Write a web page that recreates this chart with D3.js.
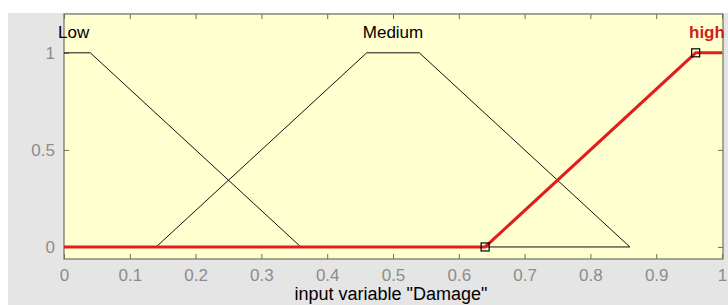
<!DOCTYPE html>
<html>
<head>
<meta charset="utf-8">
<script src="https://cdn.jsdelivr.net/npm/d3@7"></script>
<style>
  body { margin: 0; background: #fff; }
  text { font-family: "Liberation Sans", Arial, sans-serif; }
</style>
</head>
<body>
<div id="chart"></div>
<script>

// membership functions of input variable "Damage"
var mfNames = ["Low", "Medium", "high"]
var lowPts = [[0, 1], [0.04, 1], [0.36, 0]]
var mediumPts = [[0.14, 0], [0.46, 1], [0.54, 1], [0.86, 0], [0.14, 0]]
var highPts = [[0, 0], [0.64, 0], [0.96, 1], [1.0, 1]]
var highCorners = [[0.64, 0], [0.96, 1]]
var labelX = [0.0, 0.5, 0.95]

var xTicks = [0, 0.1, 0.2, 0.3, 0.4, 0.5, 0.6, 0.7, 0.8, 0.9, 1]
var yTicks = [0, 0.5, 1]

var width = 728;
var height = 305;

var svg = d3.select("#chart")
  .append("svg")
    .attr("width", width)
    .attr("height", height)

// grey figure background
svg.append("rect")
    .attr("x", 8).attr("y", 13)
    .attr("width", width - 8).attr("height", height - 13)
    .attr("fill", "#e5e5e5")

var xScale = d3.scaleLinear()
  .domain([0, 1])
  .range([64, 722])

var yScale = d3.scaleLinear()
  .domain([-0.062, 1.2])
  .range([259, 14])

var x0 = 64, x1 = 723, y0 = 14, y1 = 259

svg.append("rect")
    .attr("x", x0).attr("y", y0)
    .attr("width", x1 - x0).attr("height", y1 - y0)
    .attr("fill", "#ffffcf")

var axisColor = "#707060"

// bottom axis
svg.append("g")
    .attr("transform", `translate(0,${y1})`)
    .call(d3.axisBottom(xScale).tickValues(xTicks).tickSize(-5).tickPadding(10)
      .tickFormat(d3.format("~g")))
// top axis ticks only
svg.append("g")
    .attr("transform", `translate(0,${y0})`)
    .call(d3.axisTop(xScale).tickValues(xTicks).tickSize(-5).tickFormat(""))
// left axis
svg.append("g")
    .attr("transform", `translate(${x0},0)`)
    .call(d3.axisLeft(yScale).tickValues(yTicks).tickSize(-5).tickPadding(9)
      .tickFormat(d3.format("~g")))
// right axis ticks only
svg.append("g")
    .attr("transform", `translate(${x1},0)`)
    .call(d3.axisRight(yScale).tickValues(yTicks).tickSize(-5).tickFormat(""))

svg.selectAll(".domain").remove()
svg.selectAll(".tick line").attr("stroke", axisColor)
svg.selectAll(".tick text")
    .attr("fill", "#8c8c8c")
    .style("font-size", "17px")

svg.append("rect")
    .attr("x", x0).attr("y", y0)
    .attr("width", x1 - x0).attr("height", y1 - y0)
    .attr("fill", "none")
    .attr("stroke", axisColor)
    .attr("stroke-width", 1.2)

var line = d3.line()
    .x(d => xScale(d[0]))
    .y(d => yScale(d[1]))

svg.append("path")
    .datum(mediumPts)
    .attr("fill", "none")
    .attr("stroke", "#111")
    .attr("stroke-width", 1)
    .attr("d", line)

svg.append("path")
    .datum(lowPts)
    .attr("fill", "none")
    .attr("stroke", "#111")
    .attr("stroke-width", 1)
    .attr("d", line)

svg.append("path")
    .datum(highPts)
    .attr("fill", "none")
    .attr("stroke", "#e01e1e")
    .attr("stroke-width", 3)
    .attr("d", line)

svg.selectAll(".corner")
  .data(highCorners)
  .join("rect")
    .attr("class", "corner")
    .attr("x", d => xScale(d[0]) - 4)
    .attr("y", d => yScale(d[1]) - 4)
    .attr("width", 8)
    .attr("height", 8)
    .attr("fill", "none")
    .attr("stroke", "#000")
    .attr("stroke-width", 1.2)

// MF names
svg.append("text")
    .attr("x", xScale(labelX[0]) - 6)
    .attr("y", 38)
    .style("font-size", "17px")
    .attr("fill", "#000")
    .text(mfNames[0])

svg.append("text")
    .attr("x", xScale(labelX[1]))
    .attr("y", 38)
    .attr("text-anchor", "middle")
    .style("font-size", "17px")
    .attr("fill", "#000")
    .text(mfNames[1])

svg.append("text")
    .attr("x", 689)
    .attr("y", 38)
    .style("font-size", "17px")
    .style("font-weight", "bold")
    .attr("fill", "#d0201e")
    .text(mfNames[2])

svg.append("text")
    .attr("text-anchor", "middle")
    .attr("x", 391)
    .attr("y", 300)
    .style("font-size", "18px")
    .attr("fill", "#000")
    .text('input variable "Damage"');

</script>
</body>
</html>
